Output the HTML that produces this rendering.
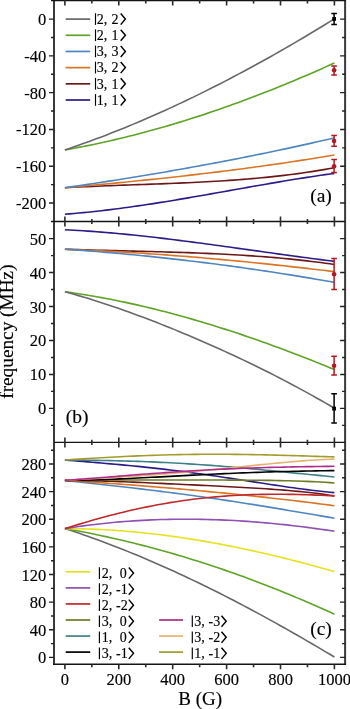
<!DOCTYPE html>
<html><head><meta charset="utf-8"><style>
html,body{margin:0;padding:0;background:#fff;}
body{width:350px;height:709px;overflow:hidden;}
svg{display:block;filter:blur(0.3px);}
text{font-family:"Liberation Serif",serif;fill:#000;stroke:#000;stroke-width:0.15px;}
.n{font-size:16.5px;}
.t{font-size:19.5px;}
.l{font-size:14px;}
</style></head><body>
<svg width="350" height="709" viewBox="0 0 350 709"><rect width="350" height="709" fill="#fff"/><path d="M64.90,214.21 L69.47,213.85 L74.04,213.47 L78.60,213.07 L83.17,212.64 L87.74,212.19 L92.31,211.71 L96.87,211.22 L101.44,210.70 L106.01,210.16 L110.58,209.61 L115.15,209.03 L119.71,208.44 L124.28,207.83 L128.85,207.20 L133.42,206.56 L137.98,205.90 L142.55,205.22 L147.12,204.54 L151.69,203.84 L156.26,203.12 L160.82,202.40 L165.39,201.67 L169.96,200.92 L174.53,200.17 L179.09,199.40 L183.66,198.63 L188.23,197.85 L192.80,197.07 L197.37,196.28 L201.93,195.48 L206.50,194.68 L211.07,193.87 L215.64,193.07 L220.21,192.26 L224.77,191.44 L229.34,190.63 L233.91,189.82 L238.48,189.01 L243.04,188.20 L247.61,187.39 L252.18,186.58 L256.75,185.78 L261.32,184.98 L265.88,184.18 L270.45,183.40 L275.02,182.61 L279.59,181.84 L284.15,181.07 L288.72,180.31 L293.29,179.56 L297.86,178.82 L302.43,178.09 L306.99,177.37 L311.56,176.67 L316.13,175.98 L320.70,175.30 L325.26,174.63 L329.83,173.98 L334.40,173.34" fill="none" stroke="#2c1b88" stroke-width="1.6" stroke-linejoin="round"/><path d="M64.90,187.71 L69.47,187.46 L74.04,187.22 L78.60,187.00 L83.17,186.78 L87.74,186.58 L92.31,186.38 L96.87,186.19 L101.44,186.00 L106.01,185.82 L110.58,185.65 L115.15,185.47 L119.71,185.31 L124.28,185.14 L128.85,184.98 L133.42,184.82 L137.98,184.66 L142.55,184.50 L147.12,184.33 L151.69,184.17 L156.26,184.00 L160.82,183.83 L165.39,183.66 L169.96,183.48 L174.53,183.30 L179.09,183.11 L183.66,182.91 L188.23,182.71 L192.80,182.50 L197.37,182.27 L201.93,182.04 L206.50,181.80 L211.07,181.55 L215.64,181.28 L220.21,181.00 L224.77,180.71 L229.34,180.41 L233.91,180.08 L238.48,179.75 L243.04,179.39 L247.61,179.02 L252.18,178.64 L256.75,178.23 L261.32,177.80 L265.88,177.35 L270.45,176.89 L275.02,176.40 L279.59,175.89 L284.15,175.35 L288.72,174.79 L293.29,174.21 L297.86,173.60 L302.43,172.96 L306.99,172.30 L311.56,171.61 L316.13,170.89 L320.70,170.15 L325.26,169.37 L329.83,168.56 L334.40,167.73" fill="none" stroke="#6b1717" stroke-width="1.6" stroke-linejoin="round"/><path d="M64.90,187.71 L69.47,187.30 L74.04,186.90 L78.60,186.49 L83.17,186.07 L87.74,185.65 L92.31,185.23 L96.87,184.81 L101.44,184.38 L106.01,183.95 L110.58,183.52 L115.15,183.08 L119.71,182.64 L124.28,182.19 L128.85,181.74 L133.42,181.28 L137.98,180.82 L142.55,180.35 L147.12,179.88 L151.69,179.41 L156.26,178.93 L160.82,178.44 L165.39,177.95 L169.96,177.45 L174.53,176.95 L179.09,176.44 L183.66,175.93 L188.23,175.41 L192.80,174.89 L197.37,174.35 L201.93,173.82 L206.50,173.27 L211.07,172.72 L215.64,172.16 L220.21,171.60 L224.77,171.03 L229.34,170.45 L233.91,169.86 L238.48,169.27 L243.04,168.67 L247.61,168.06 L252.18,167.45 L256.75,166.82 L261.32,166.19 L265.88,165.55 L270.45,164.91 L275.02,164.25 L279.59,163.59 L284.15,162.92 L288.72,162.24 L293.29,161.55 L297.86,160.85 L302.43,160.14 L306.99,159.43 L311.56,158.70 L316.13,157.97 L320.70,157.22 L325.26,156.47 L329.83,155.70 L334.40,154.93" fill="none" stroke="#dc7425" stroke-width="1.6" stroke-linejoin="round"/><path d="M64.90,187.71 L69.47,187.06 L74.04,186.40 L78.60,185.73 L83.17,185.06 L87.74,184.38 L92.31,183.69 L96.87,183.00 L101.44,182.31 L106.01,181.61 L110.58,180.90 L115.15,180.18 L119.71,179.46 L124.28,178.74 L128.85,178.01 L133.42,177.27 L137.98,176.52 L142.55,175.77 L147.12,175.01 L151.69,174.25 L156.26,173.48 L160.82,172.70 L165.39,171.92 L169.96,171.13 L174.53,170.33 L179.09,169.53 L183.66,168.72 L188.23,167.91 L192.80,167.08 L197.37,166.25 L201.93,165.41 L206.50,164.57 L211.07,163.72 L215.64,162.86 L220.21,162.00 L224.77,161.12 L229.34,160.24 L233.91,159.36 L238.48,158.46 L243.04,157.56 L247.61,156.65 L252.18,155.74 L256.75,154.81 L261.32,153.88 L265.88,152.94 L270.45,151.99 L275.02,151.04 L279.59,150.08 L284.15,149.11 L288.72,148.13 L293.29,147.14 L297.86,146.15 L302.43,145.15 L306.99,144.14 L311.56,143.12 L316.13,142.09 L320.70,141.06 L325.26,140.02 L329.83,138.97 L334.40,137.91" fill="none" stroke="#4f86c0" stroke-width="1.6" stroke-linejoin="round"/><path d="M64.90,149.92 L69.47,149.11 L74.04,148.27 L78.60,147.41 L83.17,146.52 L87.74,145.61 L92.31,144.67 L96.87,143.71 L101.44,142.73 L106.01,141.72 L110.58,140.69 L115.15,139.63 L119.71,138.55 L124.28,137.44 L128.85,136.31 L133.42,135.16 L137.98,133.99 L142.55,132.79 L147.12,131.57 L151.69,130.32 L156.26,129.05 L160.82,127.76 L165.39,126.45 L169.96,125.11 L174.53,123.76 L179.09,122.38 L183.66,120.97 L188.23,119.55 L192.80,118.10 L197.37,116.63 L201.93,115.14 L206.50,113.63 L211.07,112.10 L215.64,110.54 L220.21,108.97 L224.77,107.37 L229.34,105.75 L233.91,104.11 L238.48,102.45 L243.04,100.77 L247.61,99.07 L252.18,97.35 L256.75,95.61 L261.32,93.85 L265.88,92.07 L270.45,90.27 L275.02,88.44 L279.59,86.60 L284.15,84.74 L288.72,82.86 L293.29,80.96 L297.86,79.04 L302.43,77.11 L306.99,75.15 L311.56,73.17 L316.13,71.18 L320.70,69.17 L325.26,67.14 L329.83,65.09 L334.40,63.02" fill="none" stroke="#5fa327" stroke-width="1.6" stroke-linejoin="round"/><path d="M64.90,149.93 L69.47,148.39 L74.04,146.83 L78.60,145.23 L83.17,143.61 L87.74,141.97 L92.31,140.30 L96.87,138.60 L101.44,136.88 L106.01,135.13 L110.58,133.36 L115.15,131.56 L119.71,129.74 L124.28,127.90 L128.85,126.03 L133.42,124.13 L137.98,122.21 L142.55,120.27 L147.12,118.30 L151.69,116.31 L156.26,114.30 L160.82,112.26 L165.39,110.20 L169.96,108.11 L174.53,106.01 L179.09,103.88 L183.66,101.72 L188.23,99.55 L192.80,97.35 L197.37,95.13 L201.93,92.89 L206.50,90.62 L211.07,88.34 L215.64,86.03 L220.21,83.70 L224.77,81.35 L229.34,78.97 L233.91,76.58 L238.48,74.16 L243.04,71.73 L247.61,69.27 L252.18,66.80 L256.75,64.30 L261.32,61.78 L265.88,59.24 L270.45,56.68 L275.02,54.11 L279.59,51.51 L284.15,48.89 L288.72,46.26 L293.29,43.60 L297.86,40.92 L302.43,38.23 L306.99,35.52 L311.56,32.79 L316.13,30.04 L320.70,27.27 L325.26,24.48 L329.83,21.67 L334.40,18.85" fill="none" stroke="#68686c" stroke-width="1.6" stroke-linejoin="round"/><path d="M64.90,229.75 L69.47,229.98 L74.04,230.23 L78.60,230.50 L83.17,230.79 L87.74,231.09 L92.31,231.42 L96.87,231.76 L101.44,232.12 L106.01,232.50 L110.58,232.89 L115.15,233.30 L119.71,233.72 L124.28,234.16 L128.85,234.61 L133.42,235.07 L137.98,235.55 L142.55,236.04 L147.12,236.54 L151.69,237.06 L156.26,237.58 L160.82,238.12 L165.39,238.66 L169.96,239.22 L174.53,239.78 L179.09,240.35 L183.66,240.93 L188.23,241.52 L192.80,242.12 L197.37,242.72 L201.93,243.33 L206.50,243.94 L211.07,244.56 L215.64,245.18 L220.21,245.81 L224.77,246.44 L229.34,247.07 L233.91,247.71 L238.48,248.35 L243.04,248.98 L247.61,249.63 L252.18,250.27 L256.75,250.91 L261.32,251.55 L265.88,252.19 L270.45,252.83 L275.02,253.47 L279.59,254.10 L284.15,254.73 L288.72,255.36 L293.29,255.98 L297.86,256.61 L302.43,257.22 L306.99,257.83 L311.56,258.43 L316.13,259.03 L320.70,259.62 L325.26,260.21 L329.83,260.78 L334.40,261.35" fill="none" stroke="#2c1b88" stroke-width="1.6" stroke-linejoin="round"/><path d="M64.90,249.20 L69.47,249.35 L74.04,249.50 L78.60,249.65 L83.17,249.79 L87.74,249.92 L92.31,250.05 L96.87,250.18 L101.44,250.30 L106.01,250.42 L110.58,250.54 L115.15,250.65 L119.71,250.76 L124.28,250.88 L128.85,250.99 L133.42,251.10 L137.98,251.22 L142.55,251.33 L147.12,251.45 L151.69,251.57 L156.26,251.69 L160.82,251.82 L165.39,251.95 L169.96,252.08 L174.53,252.22 L179.09,252.37 L183.66,252.52 L188.23,252.67 L192.80,252.84 L197.37,253.01 L201.93,253.19 L206.50,253.38 L211.07,253.58 L215.64,253.79 L220.21,254.01 L224.77,254.24 L229.34,254.49 L233.91,254.74 L238.48,255.01 L243.04,255.29 L247.61,255.58 L252.18,255.89 L256.75,256.21 L261.32,256.55 L265.88,256.90 L270.45,257.27 L275.02,257.66 L279.59,258.06 L284.15,258.48 L288.72,258.92 L293.29,259.38 L297.86,259.86 L302.43,260.36 L306.99,260.88 L311.56,261.42 L316.13,261.98 L320.70,262.57 L325.26,263.17 L329.83,263.80 L334.40,264.46" fill="none" stroke="#6b1717" stroke-width="1.6" stroke-linejoin="round"/><path d="M64.90,249.20 L69.47,249.38 L74.04,249.57 L78.60,249.77 L83.17,249.97 L87.74,250.19 L92.31,250.41 L96.87,250.63 L101.44,250.87 L106.01,251.11 L110.58,251.36 L115.15,251.62 L119.71,251.88 L124.28,252.15 L128.85,252.43 L133.42,252.72 L137.98,253.01 L142.55,253.31 L147.12,253.61 L151.69,253.93 L156.26,254.25 L160.82,254.57 L165.39,254.90 L169.96,255.25 L174.53,255.59 L179.09,255.95 L183.66,256.31 L188.23,256.67 L192.80,257.04 L197.37,257.42 L201.93,257.81 L206.50,258.20 L211.07,258.60 L215.64,259.01 L220.21,259.42 L224.77,259.84 L229.34,260.26 L233.91,260.69 L238.48,261.13 L243.04,261.57 L247.61,262.02 L252.18,262.47 L256.75,262.93 L261.32,263.40 L265.88,263.87 L270.45,264.35 L275.02,264.84 L279.59,265.33 L284.15,265.82 L288.72,266.33 L293.29,266.83 L297.86,267.35 L302.43,267.86 L306.99,268.39 L311.56,268.92 L316.13,269.45 L320.70,270.00 L325.26,270.54 L329.83,271.09 L334.40,271.65" fill="none" stroke="#dc7425" stroke-width="1.6" stroke-linejoin="round"/><path d="M64.90,249.19 L69.47,249.51 L74.04,249.83 L78.60,250.16 L83.17,250.50 L87.74,250.85 L92.31,251.21 L96.87,251.57 L101.44,251.94 L106.01,252.33 L110.58,252.72 L115.15,253.12 L119.71,253.53 L124.28,253.94 L128.85,254.37 L133.42,254.80 L137.98,255.24 L142.55,255.69 L147.12,256.15 L151.69,256.62 L156.26,257.10 L160.82,257.58 L165.39,258.08 L169.96,258.58 L174.53,259.09 L179.09,259.61 L183.66,260.14 L188.23,260.67 L192.80,261.22 L197.37,261.77 L201.93,262.34 L206.50,262.91 L211.07,263.49 L215.64,264.07 L220.21,264.67 L224.77,265.28 L229.34,265.89 L233.91,266.51 L238.48,267.14 L243.04,267.78 L247.61,268.43 L252.18,269.09 L256.75,269.75 L261.32,270.43 L265.88,271.11 L270.45,271.80 L275.02,272.50 L279.59,273.21 L284.15,273.92 L288.72,274.65 L293.29,275.38 L297.86,276.12 L302.43,276.87 L306.99,277.63 L311.56,278.40 L316.13,279.18 L320.70,279.96 L325.26,280.76 L329.83,281.56 L334.40,282.37" fill="none" stroke="#4f86c0" stroke-width="1.6" stroke-linejoin="round"/><path d="M64.90,291.79 L69.47,292.41 L74.04,293.07 L78.60,293.75 L83.17,294.46 L87.74,295.20 L92.31,295.97 L96.87,296.77 L101.44,297.59 L106.01,298.45 L110.58,299.33 L115.15,300.23 L119.71,301.16 L124.28,302.12 L128.85,303.10 L133.42,304.11 L137.98,305.14 L142.55,306.20 L147.12,307.28 L151.69,308.39 L156.26,309.52 L160.82,310.67 L165.39,311.85 L169.96,313.04 L174.53,314.27 L179.09,315.51 L183.66,316.77 L188.23,318.06 L192.80,319.37 L197.37,320.70 L201.93,322.05 L206.50,323.43 L211.07,324.82 L215.64,326.23 L220.21,327.67 L224.77,329.12 L229.34,330.59 L233.91,332.09 L238.48,333.60 L243.04,335.13 L247.61,336.68 L252.18,338.25 L256.75,339.84 L261.32,341.45 L265.88,343.07 L270.45,344.72 L275.02,346.38 L279.59,348.06 L284.15,349.76 L288.72,351.47 L293.29,353.20 L297.86,354.95 L302.43,356.72 L306.99,358.50 L311.56,360.31 L316.13,362.12 L320.70,363.96 L325.26,365.81 L329.83,367.68 L334.40,369.57" fill="none" stroke="#5fa327" stroke-width="1.6" stroke-linejoin="round"/><path d="M64.90,291.77 L69.47,293.02 L74.04,294.30 L78.60,295.61 L83.17,296.96 L87.74,298.34 L92.31,299.75 L96.87,301.19 L101.44,302.66 L106.01,304.15 L110.58,305.68 L115.15,307.23 L119.71,308.81 L124.28,310.42 L128.85,312.05 L133.42,313.70 L137.98,315.38 L142.55,317.08 L147.12,318.81 L151.69,320.56 L156.26,322.33 L160.82,324.12 L165.39,325.93 L169.96,327.77 L174.53,329.62 L179.09,331.50 L183.66,333.39 L188.23,335.31 L192.80,337.25 L197.37,339.21 L201.93,341.19 L206.50,343.18 L211.07,345.20 L215.64,347.24 L220.21,349.30 L224.77,351.38 L229.34,353.48 L233.91,355.59 L238.48,357.74 L243.04,359.90 L247.61,362.08 L252.18,364.28 L256.75,366.51 L261.32,368.76 L265.88,371.03 L270.45,373.33 L275.02,375.65 L279.59,377.99 L284.15,380.36 L288.72,382.75 L293.29,385.17 L297.86,387.62 L302.43,390.09 L306.99,392.59 L311.56,395.12 L316.13,397.68 L320.70,400.27 L325.26,402.89 L329.83,405.55 L334.40,408.24" fill="none" stroke="#68686c" stroke-width="1.6" stroke-linejoin="round"/><path d="M64.90,528.57 L69.47,530.05 L74.04,531.57 L78.60,533.11 L83.17,534.68 L87.74,536.28 L92.31,537.91 L96.87,539.56 L101.44,541.24 L106.01,542.95 L110.58,544.68 L115.15,546.44 L119.71,548.22 L124.28,550.03 L128.85,551.87 L133.42,553.73 L137.98,555.61 L142.55,557.52 L147.12,559.46 L151.69,561.42 L156.26,563.40 L160.82,565.41 L165.39,567.44 L169.96,569.49 L174.53,571.57 L179.09,573.67 L183.66,575.79 L188.23,577.94 L192.80,580.10 L197.37,582.29 L201.93,584.50 L206.50,586.74 L211.07,588.99 L215.64,591.26 L220.21,593.56 L224.77,595.88 L229.34,598.21 L233.91,600.57 L238.48,602.95 L243.04,605.34 L247.61,607.76 L252.18,610.19 L256.75,612.65 L261.32,615.12 L265.88,617.61 L270.45,620.12 L275.02,622.65 L279.59,625.19 L284.15,627.75 L288.72,630.33 L293.29,632.93 L297.86,635.55 L302.43,638.18 L306.99,640.82 L311.56,643.49 L316.13,646.17 L320.70,648.86 L325.26,651.57 L329.83,654.30 L334.40,657.04" fill="none" stroke="#68686c" stroke-width="1.6" stroke-linejoin="round"/><path d="M64.90,528.58 L69.47,529.39 L74.04,530.22 L78.60,531.07 L83.17,531.94 L87.74,532.84 L92.31,533.76 L96.87,534.70 L101.44,535.66 L106.01,536.65 L110.58,537.66 L115.15,538.69 L119.71,539.74 L124.28,540.82 L128.85,541.92 L133.42,543.04 L137.98,544.18 L142.55,545.35 L147.12,546.54 L151.69,547.75 L156.26,548.98 L160.82,550.24 L165.39,551.51 L169.96,552.81 L174.53,554.13 L179.09,555.48 L183.66,556.84 L188.23,558.23 L192.80,559.64 L197.37,561.07 L201.93,562.53 L206.50,564.00 L211.07,565.50 L215.64,567.02 L220.21,568.57 L224.77,570.13 L229.34,571.72 L233.91,573.32 L238.48,574.95 L243.04,576.60 L247.61,578.28 L252.18,579.97 L256.75,581.69 L261.32,583.43 L265.88,585.19 L270.45,586.97 L275.02,588.77 L279.59,590.60 L284.15,592.45 L288.72,594.31 L293.29,596.20 L297.86,598.12 L302.43,600.05 L306.99,602.00 L311.56,603.98 L316.13,605.98 L320.70,608.00 L325.26,610.04 L329.83,612.10 L334.40,614.18" fill="none" stroke="#5fa327" stroke-width="1.6" stroke-linejoin="round"/><path d="M64.90,528.60 L69.47,528.62 L74.04,528.67 L78.60,528.75 L83.17,528.85 L87.74,528.99 L92.31,529.15 L96.87,529.34 L101.44,529.55 L106.01,529.80 L110.58,530.07 L115.15,530.37 L119.71,530.70 L124.28,531.05 L128.85,531.43 L133.42,531.83 L137.98,532.26 L142.55,532.72 L147.12,533.20 L151.69,533.70 L156.26,534.23 L160.82,534.79 L165.39,535.37 L169.96,535.97 L174.53,536.60 L179.09,537.25 L183.66,537.92 L188.23,538.62 L192.80,539.34 L197.37,540.08 L201.93,540.84 L206.50,541.63 L211.07,542.44 L215.64,543.27 L220.21,544.12 L224.77,544.99 L229.34,545.88 L233.91,546.80 L238.48,547.73 L243.04,548.68 L247.61,549.66 L252.18,550.65 L256.75,551.66 L261.32,552.70 L265.88,553.75 L270.45,554.82 L275.02,555.91 L279.59,557.01 L284.15,558.14 L288.72,559.28 L293.29,560.44 L297.86,561.61 L302.43,562.81 L306.99,564.02 L311.56,565.24 L316.13,566.49 L320.70,567.74 L325.26,569.02 L329.83,570.31 L334.40,571.61" fill="none" stroke="#e6e21e" stroke-width="1.6" stroke-linejoin="round"/><path d="M64.90,528.62 L69.47,527.89 L74.04,527.20 L78.60,526.54 L83.17,525.91 L87.74,525.31 L92.31,524.74 L96.87,524.20 L101.44,523.68 L106.01,523.20 L110.58,522.74 L115.15,522.32 L119.71,521.92 L124.28,521.55 L128.85,521.21 L133.42,520.89 L137.98,520.60 L142.55,520.34 L147.12,520.11 L151.69,519.91 L156.26,519.73 L160.82,519.57 L165.39,519.45 L169.96,519.35 L174.53,519.27 L179.09,519.22 L183.66,519.20 L188.23,519.20 L192.80,519.23 L197.37,519.28 L201.93,519.35 L206.50,519.45 L211.07,519.58 L215.64,519.73 L220.21,519.90 L224.77,520.09 L229.34,520.31 L233.91,520.55 L238.48,520.82 L243.04,521.10 L247.61,521.41 L252.18,521.74 L256.75,522.10 L261.32,522.47 L265.88,522.87 L270.45,523.29 L275.02,523.73 L279.59,524.19 L284.15,524.67 L288.72,525.17 L293.29,525.69 L297.86,526.23 L302.43,526.79 L306.99,527.37 L311.56,527.97 L316.13,528.59 L320.70,529.23 L325.26,529.89 L329.83,530.57 L334.40,531.26" fill="none" stroke="#8e50b2" stroke-width="1.6" stroke-linejoin="round"/><path d="M64.90,459.99 L69.47,460.38 L74.04,460.76 L78.60,461.14 L83.17,461.52 L87.74,461.90 L92.31,462.28 L96.87,462.66 L101.44,463.05 L106.01,463.44 L110.58,463.84 L115.15,464.24 L119.71,464.65 L124.28,465.08 L128.85,465.51 L133.42,465.95 L137.98,466.41 L142.55,466.87 L147.12,467.35 L151.69,467.84 L156.26,468.35 L160.82,468.86 L165.39,469.39 L169.96,469.94 L174.53,470.49 L179.09,471.06 L183.66,471.65 L188.23,472.24 L192.80,472.85 L197.37,473.47 L201.93,474.11 L206.50,474.75 L211.07,475.41 L215.64,476.07 L220.21,476.75 L224.77,477.43 L229.34,478.12 L233.91,478.81 L238.48,479.51 L243.04,480.22 L247.61,480.92 L252.18,481.63 L256.75,482.34 L261.32,483.05 L265.88,483.75 L270.45,484.45 L275.02,485.15 L279.59,485.83 L284.15,486.50 L288.72,487.17 L293.29,487.81 L297.86,488.45 L302.43,489.06 L306.99,489.65 L311.56,490.22 L316.13,490.77 L320.70,491.28 L325.26,491.77 L329.83,492.22 L334.40,492.64" fill="none" stroke="#2c1b88" stroke-width="1.6" stroke-linejoin="round"/><path d="M64.90,460.00 L69.47,460.03 L74.04,460.07 L78.60,460.12 L83.17,460.17 L87.74,460.22 L92.31,460.28 L96.87,460.35 L101.44,460.43 L106.01,460.52 L110.58,460.61 L115.15,460.72 L119.71,460.83 L124.28,460.96 L128.85,461.09 L133.42,461.23 L137.98,461.39 L142.55,461.56 L147.12,461.73 L151.69,461.92 L156.26,462.12 L160.82,462.33 L165.39,462.56 L169.96,462.79 L174.53,463.04 L179.09,463.30 L183.66,463.57 L188.23,463.85 L192.80,464.14 L197.37,464.45 L201.93,464.76 L206.50,465.09 L211.07,465.42 L215.64,465.77 L220.21,466.13 L224.77,466.50 L229.34,466.87 L233.91,467.26 L238.48,467.66 L243.04,468.06 L247.61,468.47 L252.18,468.89 L256.75,469.31 L261.32,469.75 L265.88,470.18 L270.45,470.63 L275.02,471.07 L279.59,471.52 L284.15,471.98 L288.72,472.43 L293.29,472.89 L297.86,473.35 L302.43,473.81 L306.99,474.27 L311.56,474.72 L316.13,475.17 L320.70,475.62 L325.26,476.07 L329.83,476.51 L334.40,476.94" fill="none" stroke="#3f8088" stroke-width="1.6" stroke-linejoin="round"/><path d="M64.90,480.39 L69.47,480.90 L74.04,481.41 L78.60,481.91 L83.17,482.42 L87.74,482.92 L92.31,483.43 L96.87,483.93 L101.44,484.44 L106.01,484.94 L110.58,485.45 L115.15,485.97 L119.71,486.48 L124.28,487.01 L128.85,487.53 L133.42,488.06 L137.98,488.60 L142.55,489.14 L147.12,489.69 L151.69,490.24 L156.26,490.80 L160.82,491.37 L165.39,491.95 L169.96,492.53 L174.53,493.12 L179.09,493.72 L183.66,494.32 L188.23,494.94 L192.80,495.56 L197.37,496.19 L201.93,496.83 L206.50,497.48 L211.07,498.14 L215.64,498.80 L220.21,499.48 L224.77,500.16 L229.34,500.85 L233.91,501.54 L238.48,502.25 L243.04,502.96 L247.61,503.68 L252.18,504.40 L256.75,505.14 L261.32,505.88 L265.88,506.62 L270.45,507.37 L275.02,508.13 L279.59,508.89 L284.15,509.65 L288.72,510.42 L293.29,511.19 L297.86,511.96 L302.43,512.74 L306.99,513.51 L311.56,514.29 L316.13,515.07 L320.70,515.85 L325.26,516.62 L329.83,517.40 L334.40,518.17" fill="none" stroke="#4f86c0" stroke-width="1.6" stroke-linejoin="round"/><path d="M64.90,480.39 L69.47,480.67 L74.04,480.96 L78.60,481.25 L83.17,481.54 L87.74,481.84 L92.31,482.15 L96.87,482.46 L101.44,482.78 L106.01,483.10 L110.58,483.43 L115.15,483.76 L119.71,484.10 L124.28,484.44 L128.85,484.79 L133.42,485.14 L137.98,485.50 L142.55,485.86 L147.12,486.23 L151.69,486.60 L156.26,486.97 L160.82,487.35 L165.39,487.73 L169.96,488.12 L174.53,488.52 L179.09,488.91 L183.66,489.32 L188.23,489.72 L192.80,490.14 L197.37,490.55 L201.93,490.97 L206.50,491.40 L211.07,491.83 L215.64,492.27 L220.21,492.71 L224.77,493.16 L229.34,493.61 L233.91,494.06 L238.48,494.53 L243.04,495.00 L247.61,495.47 L252.18,495.95 L256.75,496.43 L261.32,496.92 L265.88,497.42 L270.45,497.93 L275.02,498.44 L279.59,498.95 L284.15,499.48 L288.72,500.01 L293.29,500.55 L297.86,501.09 L302.43,501.65 L306.99,502.21 L311.56,502.78 L316.13,503.36 L320.70,503.94 L325.26,504.54 L329.83,505.14 L334.40,505.75" fill="none" stroke="#dc7425" stroke-width="1.6" stroke-linejoin="round"/><path d="M64.90,480.40 L69.47,480.40 L74.04,480.42 L78.60,480.46 L83.17,480.53 L87.74,480.61 L92.31,480.71 L96.87,480.83 L101.44,480.96 L106.01,481.10 L110.58,481.26 L115.15,481.42 L119.71,481.59 L124.28,481.78 L128.85,481.96 L133.42,482.16 L137.98,482.36 L142.55,482.56 L147.12,482.77 L151.69,482.98 L156.26,483.19 L160.82,483.40 L165.39,483.62 L169.96,483.83 L174.53,484.05 L179.09,484.26 L183.66,484.48 L188.23,484.70 L192.80,484.92 L197.37,485.13 L201.93,485.35 L206.50,485.57 L211.07,485.79 L215.64,486.02 L220.21,486.24 L224.77,486.47 L229.34,486.70 L233.91,486.94 L238.48,487.18 L243.04,487.43 L247.61,487.69 L252.18,487.95 L256.75,488.23 L261.32,488.51 L265.88,488.81 L270.45,489.12 L275.02,489.44 L279.59,489.79 L284.15,490.15 L288.72,490.53 L293.29,490.93 L297.86,491.35 L302.43,491.81 L306.99,492.28 L311.56,492.79 L316.13,493.33 L320.70,493.91 L325.26,494.52 L329.83,495.17 L334.40,495.86" fill="none" stroke="#6b1717" stroke-width="1.6" stroke-linejoin="round"/><path d="M64.90,528.63 L69.47,527.19 L74.04,525.76 L78.60,524.37 L83.17,522.99 L87.74,521.65 L92.31,520.33 L96.87,519.04 L101.44,517.78 L106.01,516.54 L110.58,515.34 L115.15,514.17 L119.71,513.03 L124.28,511.92 L128.85,510.84 L133.42,509.79 L137.98,508.78 L142.55,507.80 L147.12,506.86 L151.69,505.95 L156.26,505.08 L160.82,504.23 L165.39,503.43 L169.96,502.66 L174.53,501.92 L179.09,501.22 L183.66,500.55 L188.23,499.92 L192.80,499.33 L197.37,498.76 L201.93,498.24 L206.50,497.75 L211.07,497.29 L215.64,496.86 L220.21,496.47 L224.77,496.12 L229.34,495.79 L233.91,495.50 L238.48,495.24 L243.04,495.02 L247.61,494.82 L252.18,494.65 L256.75,494.52 L261.32,494.41 L265.88,494.33 L270.45,494.28 L275.02,494.25 L279.59,494.25 L284.15,494.28 L288.72,494.33 L293.29,494.40 L297.86,494.50 L302.43,494.61 L306.99,494.75 L311.56,494.90 L316.13,495.08 L320.70,495.27 L325.26,495.47 L329.83,495.69 L334.40,495.92" fill="none" stroke="#c0282a" stroke-width="1.6" stroke-linejoin="round"/><path d="M64.90,480.40 L69.47,480.32 L74.04,480.25 L78.60,480.19 L83.17,480.14 L87.74,480.10 L92.31,480.06 L96.87,480.03 L101.44,480.01 L106.01,480.00 L110.58,479.98 L115.15,479.98 L119.71,479.97 L124.28,479.97 L128.85,479.97 L133.42,479.97 L137.98,479.98 L142.55,479.98 L147.12,479.99 L151.69,479.99 L156.26,480.00 L160.82,480.00 L165.39,480.01 L169.96,480.01 L174.53,480.02 L179.09,480.02 L183.66,480.03 L188.23,480.03 L192.80,480.03 L197.37,480.04 L201.93,480.04 L206.50,480.04 L211.07,480.05 L215.64,480.06 L220.21,480.06 L224.77,480.07 L229.34,480.09 L233.91,480.10 L238.48,480.12 L243.04,480.15 L247.61,480.18 L252.18,480.21 L256.75,480.25 L261.32,480.30 L265.88,480.36 L270.45,480.42 L275.02,480.50 L279.59,480.59 L284.15,480.69 L288.72,480.80 L293.29,480.93 L297.86,481.07 L302.43,481.23 L306.99,481.40 L311.56,481.60 L316.13,481.82 L320.70,482.06 L325.26,482.32 L329.83,482.61 L334.40,482.93" fill="none" stroke="#6f7a25" stroke-width="1.6" stroke-linejoin="round"/><path d="M64.90,480.40 L69.47,480.37 L74.04,480.31 L78.60,480.23 L83.17,480.14 L87.74,480.03 L92.31,479.90 L96.87,479.76 L101.44,479.61 L106.01,479.44 L110.58,479.27 L115.15,479.08 L119.71,478.88 L124.28,478.68 L128.85,478.46 L133.42,478.24 L137.98,478.02 L142.55,477.79 L147.12,477.56 L151.69,477.32 L156.26,477.08 L160.82,476.84 L165.39,476.60 L169.96,476.35 L174.53,476.11 L179.09,475.87 L183.66,475.63 L188.23,475.40 L192.80,475.16 L197.37,474.93 L201.93,474.70 L206.50,474.48 L211.07,474.26 L215.64,474.04 L220.21,473.83 L224.77,473.63 L229.34,473.43 L233.91,473.24 L238.48,473.05 L243.04,472.87 L247.61,472.69 L252.18,472.53 L256.75,472.37 L261.32,472.21 L265.88,472.06 L270.45,471.92 L275.02,471.79 L279.59,471.66 L284.15,471.54 L288.72,471.43 L293.29,471.32 L297.86,471.22 L302.43,471.12 L306.99,471.03 L311.56,470.95 L316.13,470.87 L320.70,470.79 L325.26,470.72 L329.83,470.66 L334.40,470.59" fill="none" stroke="#000000" stroke-width="1.6" stroke-linejoin="round"/><path d="M64.90,480.41 L69.47,480.11 L74.04,479.83 L78.60,479.55 L83.17,479.28 L87.74,479.01 L92.31,478.74 L96.87,478.47 L101.44,478.20 L106.01,477.93 L110.58,477.66 L115.15,477.39 L119.71,477.11 L124.28,476.82 L128.85,476.53 L133.42,476.23 L137.98,475.92 L142.55,475.61 L147.12,475.29 L151.69,474.96 L156.26,474.62 L160.82,474.27 L165.39,473.91 L169.96,473.54 L174.53,473.16 L179.09,472.78 L183.66,472.38 L188.23,471.97 L192.80,471.56 L197.37,471.14 L201.93,470.70 L206.50,470.26 L211.07,469.82 L215.64,469.36 L220.21,468.91 L224.77,468.44 L229.34,467.97 L233.91,467.50 L238.48,467.03 L243.04,466.55 L247.61,466.08 L252.18,465.60 L256.75,465.13 L261.32,464.66 L265.88,464.20 L270.45,463.75 L275.02,463.30 L279.59,462.86 L284.15,462.44 L288.72,462.02 L293.29,461.63 L297.86,461.25 L302.43,460.89 L306.99,460.55 L311.56,460.23 L316.13,459.94 L320.70,459.68 L325.26,459.45 L329.83,459.25 L334.40,459.09" fill="none" stroke="#e6b273" stroke-width="1.6" stroke-linejoin="round"/><path d="M64.90,480.41 L69.47,480.07 L74.04,479.73 L78.60,479.38 L83.17,479.02 L87.74,478.66 L92.31,478.30 L96.87,477.93 L101.44,477.56 L106.01,477.20 L110.58,476.83 L115.15,476.46 L119.71,476.09 L124.28,475.72 L128.85,475.36 L133.42,475.00 L137.98,474.64 L142.55,474.29 L147.12,473.94 L151.69,473.60 L156.26,473.26 L160.82,472.93 L165.39,472.60 L169.96,472.28 L174.53,471.97 L179.09,471.67 L183.66,471.37 L188.23,471.08 L192.80,470.80 L197.37,470.53 L201.93,470.27 L206.50,470.01 L211.07,469.77 L215.64,469.53 L220.21,469.31 L224.77,469.09 L229.34,468.88 L233.91,468.68 L238.48,468.49 L243.04,468.31 L247.61,468.14 L252.18,467.98 L256.75,467.83 L261.32,467.68 L265.88,467.55 L270.45,467.42 L275.02,467.30 L279.59,467.19 L284.15,467.08 L288.72,466.98 L293.29,466.89 L297.86,466.81 L302.43,466.73 L306.99,466.65 L311.56,466.58 L316.13,466.52 L320.70,466.46 L325.26,466.40 L329.83,466.35 L334.40,466.29" fill="none" stroke="#b02a8a" stroke-width="1.6" stroke-linejoin="round"/><path d="M64.90,460.01 L69.47,459.71 L74.04,459.41 L78.60,459.12 L83.17,458.83 L87.74,458.54 L92.31,458.26 L96.87,457.99 L101.44,457.72 L106.01,457.46 L110.58,457.21 L115.15,456.97 L119.71,456.73 L124.28,456.51 L128.85,456.29 L133.42,456.09 L137.98,455.89 L142.55,455.70 L147.12,455.53 L151.69,455.36 L156.26,455.21 L160.82,455.07 L165.39,454.94 L169.96,454.82 L174.53,454.71 L179.09,454.61 L183.66,454.53 L188.23,454.46 L192.80,454.40 L197.37,454.35 L201.93,454.31 L206.50,454.28 L211.07,454.27 L215.64,454.27 L220.21,454.28 L224.77,454.29 L229.34,454.32 L233.91,454.36 L238.48,454.41 L243.04,454.47 L247.61,454.54 L252.18,454.62 L256.75,454.71 L261.32,454.80 L265.88,454.90 L270.45,455.01 L275.02,455.13 L279.59,455.25 L284.15,455.37 L288.72,455.50 L293.29,455.64 L297.86,455.78 L302.43,455.92 L306.99,456.06 L311.56,456.21 L316.13,456.35 L320.70,456.49 L325.26,456.64 L329.83,456.78 L334.40,456.91" fill="none" stroke="#a39c2a" stroke-width="1.6" stroke-linejoin="round"/><path d="M54.0,0.65 L54.0,664.2 M345.1,0.65 L345.1,664.2" stroke="#3a3a3a" stroke-width="2" fill="none"/><path d="M51.0,0.65 L346.1,0.65 M53.0,664.2 L346.1,664.2 M51.0,221.5 L345.1,221.5 M54.0,442.4 L345.1,442.4" stroke="#141414" stroke-width="1.4" fill="none"/><text x="46.2" y="209.00" text-anchor="end" class="n">-200</text><text x="46.2" y="172.22" text-anchor="end" class="n">-160</text><text x="46.2" y="135.44" text-anchor="end" class="n">-120</text><text x="46.2" y="98.66" text-anchor="end" class="n">-80</text><text x="46.2" y="61.88" text-anchor="end" class="n">-40</text><text x="46.2" y="25.10" text-anchor="end" class="n">0</text><text x="46.2" y="414.40" text-anchor="end" class="n">0</text><text x="46.2" y="380.44" text-anchor="end" class="n">10</text><text x="46.2" y="346.48" text-anchor="end" class="n">20</text><text x="46.2" y="312.52" text-anchor="end" class="n">30</text><text x="46.2" y="278.56" text-anchor="end" class="n">40</text><text x="46.2" y="244.60" text-anchor="end" class="n">50</text><text x="46.2" y="663.40" text-anchor="end" class="n">0</text><text x="46.2" y="635.77" text-anchor="end" class="n">40</text><text x="46.2" y="608.14" text-anchor="end" class="n">80</text><text x="46.2" y="580.51" text-anchor="end" class="n">120</text><text x="46.2" y="552.88" text-anchor="end" class="n">160</text><text x="46.2" y="525.26" text-anchor="end" class="n">200</text><text x="46.2" y="497.63" text-anchor="end" class="n">240</text><text x="46.2" y="470.00" text-anchor="end" class="n">280</text><text x="64.90" y="684.9" text-anchor="middle" class="n">0</text><text x="118.80" y="684.9" text-anchor="middle" class="n">200</text><text x="172.70" y="684.9" text-anchor="middle" class="n">400</text><text x="226.60" y="684.9" text-anchor="middle" class="n">600</text><text x="280.50" y="684.9" text-anchor="middle" class="n">800</text><text x="334.40" y="684.9" text-anchor="middle" class="n">1000</text><path d="M49.0,203.00 L54.0,203.00 M345.1,203.00 L340.1,203.00 M51.0,184.61 L54.0,184.61 M345.1,184.61 L342.1,184.61 M49.0,166.22 L54.0,166.22 M345.1,166.22 L340.1,166.22 M51.0,147.83 L54.0,147.83 M345.1,147.83 L342.1,147.83 M49.0,129.44 L54.0,129.44 M345.1,129.44 L340.1,129.44 M51.0,111.05 L54.0,111.05 M345.1,111.05 L342.1,111.05 M49.0,92.66 L54.0,92.66 M345.1,92.66 L340.1,92.66 M51.0,74.27 L54.0,74.27 M345.1,74.27 L342.1,74.27 M49.0,55.88 L54.0,55.88 M345.1,55.88 L340.1,55.88 M51.0,37.49 L54.0,37.49 M345.1,37.49 L342.1,37.49 M49.0,19.10 L54.0,19.10 M345.1,19.10 L340.1,19.10 M49.0,408.40 L54.0,408.40 M345.1,408.40 L340.1,408.40 M51.0,391.42 L54.0,391.42 M345.1,391.42 L342.1,391.42 M49.0,374.44 L54.0,374.44 M345.1,374.44 L340.1,374.44 M51.0,357.46 L54.0,357.46 M345.1,357.46 L342.1,357.46 M49.0,340.48 L54.0,340.48 M345.1,340.48 L340.1,340.48 M51.0,323.50 L54.0,323.50 M345.1,323.50 L342.1,323.50 M49.0,306.52 L54.0,306.52 M345.1,306.52 L340.1,306.52 M51.0,289.54 L54.0,289.54 M345.1,289.54 L342.1,289.54 M49.0,272.56 L54.0,272.56 M345.1,272.56 L340.1,272.56 M51.0,255.58 L54.0,255.58 M345.1,255.58 L342.1,255.58 M49.0,238.60 L54.0,238.60 M345.1,238.60 L340.1,238.60 M49.0,657.40 L54.0,657.40 M345.1,657.40 L340.1,657.40 M51.0,643.58 L54.0,643.58 M345.1,643.58 L342.1,643.58 M49.0,629.77 L54.0,629.77 M345.1,629.77 L340.1,629.77 M51.0,615.95 L54.0,615.95 M345.1,615.95 L342.1,615.95 M49.0,602.14 L54.0,602.14 M345.1,602.14 L340.1,602.14 M51.0,588.33 L54.0,588.33 M345.1,588.33 L342.1,588.33 M49.0,574.51 L54.0,574.51 M345.1,574.51 L340.1,574.51 M51.0,560.70 L54.0,560.70 M345.1,560.70 L342.1,560.70 M49.0,546.88 L54.0,546.88 M345.1,546.88 L340.1,546.88 M51.0,533.07 L54.0,533.07 M345.1,533.07 L342.1,533.07 M49.0,519.26 L54.0,519.26 M345.1,519.26 L340.1,519.26 M51.0,505.44 L54.0,505.44 M345.1,505.44 L342.1,505.44 M49.0,491.63 L54.0,491.63 M345.1,491.63 L340.1,491.63 M51.0,477.81 L54.0,477.81 M345.1,477.81 L342.1,477.81 M49.0,464.00 L54.0,464.00 M345.1,464.00 L340.1,464.00 M51.0,450.19 L54.0,450.19 M345.1,450.19 L342.1,450.19 M51.0,425.38 L54.0,425.38 M345.1,425.38 L342.1,425.38" stroke="#222" stroke-width="1.4" fill="none"/><path d="M64.90,0 L64.90,5.4 M64.90,216.5 L64.90,226.5 M64.90,437.4 L64.90,447.4 M64.90,664.2 L64.90,669.2 M91.85,0 L91.85,3.4 M91.85,218.9 L91.85,224.1 M91.85,439.79999999999995 L91.85,445.0 M91.85,664.2 L91.85,667.2 M118.80,0 L118.80,5.4 M118.80,216.5 L118.80,226.5 M118.80,437.4 L118.80,447.4 M118.80,664.2 L118.80,669.2 M145.75,0 L145.75,3.4 M145.75,218.9 L145.75,224.1 M145.75,439.79999999999995 L145.75,445.0 M145.75,664.2 L145.75,667.2 M172.70,0 L172.70,5.4 M172.70,216.5 L172.70,226.5 M172.70,437.4 L172.70,447.4 M172.70,664.2 L172.70,669.2 M199.65,0 L199.65,3.4 M199.65,218.9 L199.65,224.1 M199.65,439.79999999999995 L199.65,445.0 M199.65,664.2 L199.65,667.2 M226.60,0 L226.60,5.4 M226.60,216.5 L226.60,226.5 M226.60,437.4 L226.60,447.4 M226.60,664.2 L226.60,669.2 M253.55,0 L253.55,3.4 M253.55,218.9 L253.55,224.1 M253.55,439.79999999999995 L253.55,445.0 M253.55,664.2 L253.55,667.2 M280.50,0 L280.50,5.4 M280.50,216.5 L280.50,226.5 M280.50,437.4 L280.50,447.4 M280.50,664.2 L280.50,669.2 M307.45,0 L307.45,3.4 M307.45,218.9 L307.45,224.1 M307.45,439.79999999999995 L307.45,445.0 M307.45,664.2 L307.45,667.2 M334.40,0 L334.40,5.4 M334.40,216.5 L334.40,226.5 M334.40,437.4 L334.40,447.4 M334.40,664.2 L334.40,669.2" stroke="#2a2a2a" stroke-width="1.6" fill="none"/><text x="200.2" y="704.6" text-anchor="middle" class="t" style="font-size:19px">B (G)</text><text transform="translate(13.2,331.6) rotate(-90)" x="0" y="0" text-anchor="middle" class="t" style="font-size:19.3px">frequency (MHz)</text><text x="321" y="202.3" text-anchor="middle" class="t">(a)</text><text x="77.2" y="422.8" text-anchor="middle" class="t">(b)</text><text x="321" y="635" text-anchor="middle" class="t">(c)</text><path d="M334.1,13.6 L334.1,24.5 M331.3,13.6 L336.90000000000003,13.6 M331.3,24.5 L336.90000000000003,24.5" stroke="#000" stroke-width="1.5" fill="none"/><rect x="332.20000000000005" y="17.0" width="3.8" height="3.8" fill="#000"/><path d="M334.1,66.0 L334.1,75.0 M331.3,66.0 L336.90000000000003,66.0 M331.3,75.0 L336.90000000000003,75.0" stroke="#b5161f" stroke-width="1.5" fill="none"/><circle cx="334.1" cy="70.3" r="2.3" fill="#b5161f"/><path d="M334.1,135.4 L334.1,146.3 M331.3,135.4 L336.90000000000003,135.4 M331.3,146.3 L336.90000000000003,146.3" stroke="#b5161f" stroke-width="1.5" fill="none"/><circle cx="334.1" cy="141.0" r="2.3" fill="#b5161f"/><path d="M334.1,159.6 L334.1,172.5 M331.3,159.6 L336.90000000000003,159.6 M331.3,172.5 L336.90000000000003,172.5" stroke="#b5161f" stroke-width="1.5" fill="none"/><circle cx="334.1" cy="166.2" r="2.3" fill="#b5161f"/><path d="M334.1,258.6 L334.1,289.6 M331.3,258.6 L336.90000000000003,258.6 M331.3,289.6 L336.90000000000003,289.6" stroke="#b5161f" stroke-width="1.5" fill="none"/><circle cx="334.1" cy="274.2" r="2.3" fill="#b5161f"/><path d="M334.1,356.3 L334.1,375.1 M331.3,356.3 L336.90000000000003,356.3 M331.3,375.1 L336.90000000000003,375.1" stroke="#b5161f" stroke-width="1.5" fill="none"/><circle cx="334.1" cy="365.7" r="2.3" fill="#b5161f"/><path d="M334.1,393.7 L334.1,422.9 M331.3,393.7 L336.90000000000003,393.7 M331.3,422.9 L336.90000000000003,422.9" stroke="#000" stroke-width="1.5" fill="none"/><rect x="332.20000000000005" y="406.70000000000005" width="3.8" height="3.8" fill="#000"/><path d="M65.7,19.10 L90.2,19.10" stroke="#68686c" stroke-width="1.7"/><path d="M95.5,13.20 L95.5,24.90" stroke="#000" stroke-width="1.15"/><text x="96.8" y="23.80" class="l" xml:space="preserve" style="word-spacing:0.7px">2, 2</text><path d="M120.7,13.50 L125.40,19.05 L120.7,24.60" stroke="#000" stroke-width="1.45" fill="none" stroke-linejoin="miter"/><path d="M65.7,35.28 L90.2,35.28" stroke="#5fa327" stroke-width="1.7"/><path d="M95.5,29.38 L95.5,41.08" stroke="#000" stroke-width="1.15"/><text x="96.8" y="39.98" class="l" xml:space="preserve" style="word-spacing:0.7px">2, 1</text><path d="M120.7,29.68 L125.40,35.23 L120.7,40.78" stroke="#000" stroke-width="1.45" fill="none" stroke-linejoin="miter"/><path d="M65.7,51.46 L90.2,51.46" stroke="#4f86c0" stroke-width="1.7"/><path d="M95.5,45.56 L95.5,57.26" stroke="#000" stroke-width="1.15"/><text x="96.8" y="56.16" class="l" xml:space="preserve" style="word-spacing:0.7px">3, 3</text><path d="M120.7,45.86 L125.40,51.41 L120.7,56.96" stroke="#000" stroke-width="1.45" fill="none" stroke-linejoin="miter"/><path d="M65.7,67.64 L90.2,67.64" stroke="#dc7425" stroke-width="1.7"/><path d="M95.5,61.74 L95.5,73.44" stroke="#000" stroke-width="1.15"/><text x="96.8" y="72.34" class="l" xml:space="preserve" style="word-spacing:0.7px">3, 2</text><path d="M120.7,62.04 L125.40,67.59 L120.7,73.14" stroke="#000" stroke-width="1.45" fill="none" stroke-linejoin="miter"/><path d="M65.7,83.82 L90.2,83.82" stroke="#6b1717" stroke-width="1.7"/><path d="M95.5,77.92 L95.5,89.62" stroke="#000" stroke-width="1.15"/><text x="96.8" y="88.52" class="l" xml:space="preserve" style="word-spacing:0.7px">3, 1</text><path d="M120.7,78.22 L125.40,83.77 L120.7,89.32" stroke="#000" stroke-width="1.45" fill="none" stroke-linejoin="miter"/><path d="M65.7,100.00 L90.2,100.00" stroke="#2c1b88" stroke-width="1.7"/><path d="M95.5,94.10 L95.5,105.80" stroke="#000" stroke-width="1.15"/><text x="96.8" y="104.70" class="l" xml:space="preserve" style="word-spacing:0.7px">1, 1</text><path d="M120.7,94.40 L125.40,99.95 L120.7,105.50" stroke="#000" stroke-width="1.45" fill="none" stroke-linejoin="miter"/><path d="M65.7,571.85 L90.2,571.85" stroke="#e6e21e" stroke-width="1.7"/><path d="M99.4,567.25 L99.4,578.95" stroke="#000" stroke-width="1.15"/><text x="101.7" y="577.85" class="l" xml:space="preserve" style="word-spacing:0.3px">2,  0</text><path d="M128.8,567.55 L133.50,573.10 L128.8,578.65" stroke="#000" stroke-width="1.45" fill="none" stroke-linejoin="miter"/><path d="M65.7,587.90 L90.2,587.90" stroke="#8e50b2" stroke-width="1.7"/><path d="M99.4,583.30 L99.4,595.00" stroke="#000" stroke-width="1.15"/><text x="101.7" y="593.90" class="l" xml:space="preserve" style="word-spacing:0.3px">2, -1</text><path d="M128.8,583.60 L133.50,589.15 L128.8,594.70" stroke="#000" stroke-width="1.45" fill="none" stroke-linejoin="miter"/><path d="M65.7,603.95 L90.2,603.95" stroke="#c0282a" stroke-width="1.7"/><path d="M99.4,599.35 L99.4,611.05" stroke="#000" stroke-width="1.15"/><text x="101.7" y="609.95" class="l" xml:space="preserve" style="word-spacing:0.3px">2, -2</text><path d="M128.8,599.65 L133.50,605.20 L128.8,610.75" stroke="#000" stroke-width="1.45" fill="none" stroke-linejoin="miter"/><path d="M65.7,620.00 L90.2,620.00" stroke="#6f7a25" stroke-width="1.7"/><path d="M99.4,615.40 L99.4,627.10" stroke="#000" stroke-width="1.15"/><text x="101.7" y="626.00" class="l" xml:space="preserve" style="word-spacing:0.3px">3,  0</text><path d="M128.8,615.70 L133.50,621.25 L128.8,626.80" stroke="#000" stroke-width="1.45" fill="none" stroke-linejoin="miter"/><path d="M65.7,636.05 L90.2,636.05" stroke="#3f8088" stroke-width="1.7"/><path d="M99.4,631.45 L99.4,643.15" stroke="#000" stroke-width="1.15"/><text x="101.7" y="642.05" class="l" xml:space="preserve" style="word-spacing:0.3px">1,  0</text><path d="M128.8,631.75 L133.50,637.30 L128.8,642.85" stroke="#000" stroke-width="1.45" fill="none" stroke-linejoin="miter"/><path d="M65.7,652.10 L90.2,652.10" stroke="#000000" stroke-width="1.7"/><path d="M99.4,647.50 L99.4,659.20" stroke="#000" stroke-width="1.15"/><text x="101.7" y="658.10" class="l" xml:space="preserve" style="word-spacing:0.3px">3, -1</text><path d="M128.8,647.80 L133.50,653.35 L128.8,658.90" stroke="#000" stroke-width="1.45" fill="none" stroke-linejoin="miter"/><path d="M159.1,620.00 L183.0,620.00" stroke="#b02a8a" stroke-width="1.7"/><path d="M192.3,615.40 L192.3,627.10" stroke="#000" stroke-width="1.15"/><text x="194.3" y="626.00" class="l" xml:space="preserve" style="word-spacing:0.3px">3, -3</text><path d="M221.5,615.70 L226.20,621.25 L221.5,626.80" stroke="#000" stroke-width="1.45" fill="none" stroke-linejoin="miter"/><path d="M159.1,636.05 L183.0,636.05" stroke="#e6b273" stroke-width="1.7"/><path d="M192.3,631.45 L192.3,643.15" stroke="#000" stroke-width="1.15"/><text x="194.3" y="642.05" class="l" xml:space="preserve" style="word-spacing:0.3px">3, -2</text><path d="M221.5,631.75 L226.20,637.30 L221.5,642.85" stroke="#000" stroke-width="1.45" fill="none" stroke-linejoin="miter"/><path d="M159.1,652.10 L183.0,652.10" stroke="#a39c2a" stroke-width="1.7"/><path d="M192.3,647.50 L192.3,659.20" stroke="#000" stroke-width="1.15"/><text x="194.3" y="658.10" class="l" xml:space="preserve" style="word-spacing:0.3px">1, -1</text><path d="M221.5,647.80 L226.20,653.35 L221.5,658.90" stroke="#000" stroke-width="1.45" fill="none" stroke-linejoin="miter"/></svg>
</body></html>
